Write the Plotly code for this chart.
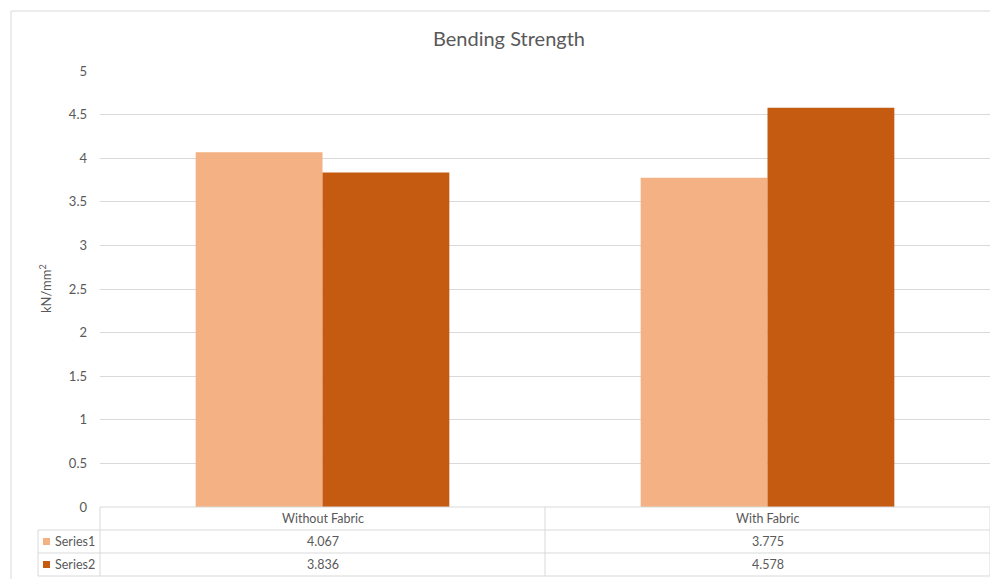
import plotly.graph_objects as go

categories = ["Without Fabric", "With Fabric"]
series_names = ["Series1", "Series2"]
series1 = [4.067, 3.775]
series2 = [3.836, 4.578]
series_colors = ["#F4B183", "#C55A11"]
y_ticks = [0, 0.5, 1, 1.5, 2, 2.5, 3, 3.5, 4, 4.5, 5]
y_tick_labels = ["0", "0.5", "1", "1.5", "2", "2.5", "3", "3.5", "4", "4.5", "5"]

OFF = 8  # page body offset
W, H = 998 - OFF, 579 - OFF
L, R, T, B = 100 - OFF, 8, 71 - OFF, 579 - 507
PW, PH = W - L - R, H - T - B
FONT = "Lato, Calibri, Carlito, sans-serif"
TXT = "#595959"
GRID = "#D9D9D9"

def px(X):
    return (X - OFF - L) / PW

def py(Y):
    return (H - B - (Y - OFF)) / PH

fig = go.Figure()
for name, vals, col in zip(series_names, [series1, series2], series_colors):
    fig.add_trace(go.Bar(x=categories, y=vals, name=name,
                         marker=dict(color=col, line=dict(width=0)),
                         showlegend=False))

shapes = []
# outer chart border
shapes.append(dict(type="rect", xref="paper", yref="paper",
                   x0=px(11), x1=px(1005), y0=py(11), y1=py(585),
                   line=dict(color=GRID, width=1), layer="below"))
# data table lines
row_y = [507, 530, 553, 576]
for i, Y in enumerate(row_y):
    x0 = px(100) if i == 0 else px(38)
    shapes.append(dict(type="line", xref="paper", yref="paper",
                       x0=x0, x1=px(990), y0=py(Y), y1=py(Y),
                       line=dict(color=GRID, width=1)))
for X, Ytop in [(100, 507), (545, 507), (990, 507), (38, 530)]:
    shapes.append(dict(type="line", xref="paper", yref="paper",
                       x0=px(X), x1=px(X), y0=py(Ytop), y1=py(576),
                       line=dict(color=GRID, width=1)))

annotations = []
tfont = dict(size=12.5, color=TXT, family=FONT)
# category row
for c in categories:
    annotations.append(dict(x=c, xref="x", y=py(518.5), yref="paper", text=c,
                            xanchor="center", yanchor="middle",
                            showarrow=False, font=tfont))
# value rows
for r, (name, vals, col) in enumerate(zip(series_names, [series1, series2], series_colors)):
    Yc = 541.5 + 23 * r
    for c, v in zip(categories, vals):
        annotations.append(dict(x=c, xref="x", y=py(Yc), yref="paper", text=f"{v:g}",
                                xanchor="center", yanchor="middle",
                                showarrow=False, font=tfont))
    annotations.append(dict(x=px(53), xref="paper", y=py(Yc), yref="paper", text=name,
                            xanchor="left", yanchor="middle", showarrow=False,
                            font=tfont))
    shapes.append(dict(type="rect", xref="paper", yref="paper",
                       x0=px(43), x1=px(50), y0=py(Yc - 3.5), y1=py(Yc + 3.5),
                       fillcolor=col, line=dict(width=0)))

# y-axis title
annotations.append(dict(x=px(45), xref="paper", y=py(289), yref="paper",
                        xanchor="center", yanchor="middle",
                        text="kN/mm<sup>2</sup>", textangle=-90, showarrow=False,
                        font=dict(size=13, color=TXT, family=FONT)))

fig.update_layout(
    width=W, height=H,
    margin=dict(l=L, r=R, t=T, b=B),
    paper_bgcolor="white", plot_bgcolor="white",
    title=dict(text="Bending Strength", x=(509 - OFF) / W, xanchor="center",
               y=1 - (39 - OFF) / H, yanchor="middle",
               font=dict(size=20, color=TXT, family=FONT)),
    barmode="group", bargap=0.43, bargroupgap=0,
    xaxis=dict(showticklabels=False, showgrid=False, showline=False, ticks="",
               zeroline=False),
    yaxis=dict(range=[0, 5], tickvals=y_ticks, ticktext=y_tick_labels,
               showgrid=True, gridcolor=GRID, gridwidth=1, zeroline=False,
               showline=False, ticks="", ticklabelstandoff=12,
               tickfont=dict(size=13, color=TXT, family=FONT)),
    shapes=shapes, annotations=annotations,
    showlegend=False,
)

fig.write_html("out.html")
